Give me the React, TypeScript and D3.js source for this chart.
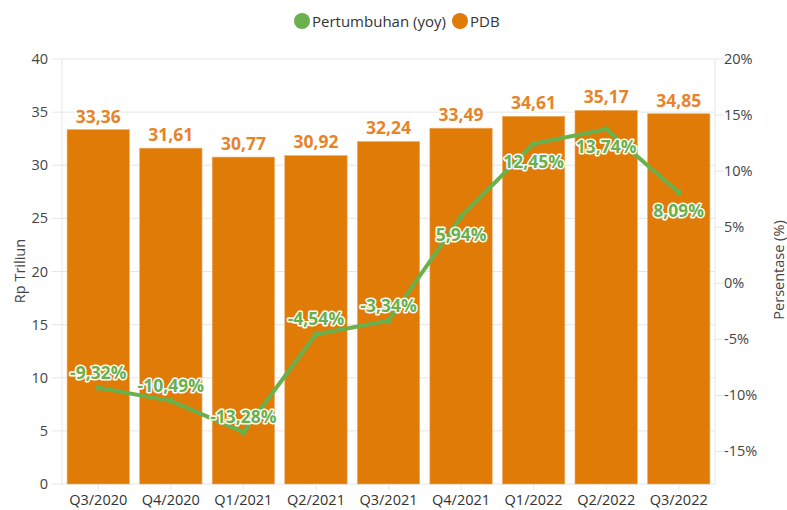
import React from "react";
import * as d3 from "d3";

const categories = ["Q3/2020", "Q4/2020", "Q1/2021", "Q2/2021", "Q3/2021", "Q4/2021", "Q1/2022", "Q2/2022", "Q3/2022"];
const pdb = [33.36, 31.61, 30.77, 30.92, 32.24, 33.49, 34.61, 35.17, 34.85];
const growth = [-9.32, -10.49, -13.28, -4.54, -3.34, 5.94, 12.45, 13.74, 8.09];
const leftTicks = [0, 5, 10, 15, 20, 25, 30, 35, 40];
const rightTicks = [-15, -10, -5, 0, 5, 10, 15, 20];

const W = 787, H = 510;
const M = { left: 62, right: 715, top: 59, bottom: 484 };
const ORANGE = "#e07b07";
const GREEN = "#6ab04c";
const FONT = "'Open Sans', 'Noto Sans', sans-serif";
const fmt = (v: number) => v.toFixed(2).replace(".", ",");

export default function App() {
  const x = d3.scaleBand<string>().domain(categories).range([M.left, M.right]).paddingInner(0.14).paddingOuter(0.07);
  const y = d3.scaleLinear().domain([0, 40]).range([M.bottom, M.top]);
  const y2 = d3.scaleLinear().domain([-17.9, 20]).range([M.bottom, M.top]);
  const line = d3.line<number>().x((_, i) => x(categories[i])! + x.bandwidth() / 2).y((d) => y2(d));
  const halo = { stroke: "white", strokeWidth: 3, paintOrder: "stroke" as const, strokeLinejoin: "round" as const };
  return (
    <svg width={W} height={H} style={{ position: "absolute", left: 0, top: 0, fontFamily: FONT }}>
      <rect width={W} height={H} fill="white" />
      {/* legend */}
      <circle cx={302} cy={21} r={8} fill={GREEN} />
      <text x={312} y={26.5} fontSize={15} fill="#333">Pertumbuhan (yoy)</text>
      <circle cx={460} cy={21} r={8} fill={ORANGE} />
      <text x={470} y={26.5} fontSize={15} fill="#333">PDB</text>
      {/* grid */}
      {leftTicks.map((t) => (
        <g key={t}>
          <line x1={52} x2={M.right} y1={y(t)} y2={y(t)} stroke="#e6e6e6" />
          <text x={48} y={y(t) + 5} textAnchor="end" fontSize={14.5} fill="#444">{t}</text>
        </g>
      ))}
      <line x1={M.left} x2={M.left} y1={M.top} y2={M.bottom} stroke="#e6e6e6" />
      <line x1={M.right} x2={M.right} y1={M.top} y2={M.bottom} stroke="#e6e6e6" />
      {rightTicks.map((t) => (
        <g key={t}>
          <line x1={M.right} x2={M.right + 8} y1={y2(t)} y2={y2(t)} stroke="#e6e6e6" />
          <text x={724} y={y2(t) + 5} fontSize={14.5} fill="#444">{t}%</text>
        </g>
      ))}
      {/* axis titles */}
      <text transform={`translate(25,${271}) rotate(-90)`} textAnchor="middle" fontSize={14.5} fill="#444">Rp Triliun</text>
      <text transform={`translate(784,${270}) rotate(-90)`} textAnchor="middle" fontSize={14.5} fill="#444">Persentase (%)</text>
      {/* bars */}
      {pdb.map((v, i) => (
        <rect key={i} x={x(categories[i])!} y={y(v)} width={x.bandwidth()} height={y(0) - y(v)} fill={ORANGE} stroke="#f0b070" strokeWidth={0.6} />
      ))}
      {/* x axis */}
      {categories.map((c) => (
        <g key={c}>
          <line x1={x(c)! + x.bandwidth() / 2} x2={x(c)! + x.bandwidth() / 2} y1={M.bottom} y2={M.bottom + 6} stroke="#e6e6e6" />
          <text x={x(c)! + x.bandwidth() / 2} y={505} textAnchor="middle" fontSize={14.5} fill="#333">{c}</text>
        </g>
      ))}
      {/* bar labels */}
      {pdb.map((v, i) => (
        <text key={i} x={x(categories[i])! + x.bandwidth() / 2} y={y(v) - 7} textAnchor="middle" fontSize={17.5} fontWeight="bold" fill="#e8832a" {...halo}>{fmt(v)}</text>
      ))}
      {/* line */}
      <path d={line(growth)!} fill="none" stroke={GREEN} strokeWidth={4} strokeLinejoin="round" />
      {growth.map((v, i) => (
        <circle key={i} cx={x(categories[i])! + x.bandwidth() / 2} cy={y2(v)} r={3} fill={GREEN} />
      ))}
      {growth.map((v, i) => {
        const cx = x(categories[i])! + x.bandwidth() / 2;
        const ty = v < 0 ? y2(v) - 9 : y2(v) + 24;
        return (
          <text key={i} x={cx} y={ty} textAnchor="middle" fontSize={17.5} fontWeight="bold" fill={GREEN} {...halo}>{fmt(v)}%</text>
        );
      })}
    </svg>
  );
}
